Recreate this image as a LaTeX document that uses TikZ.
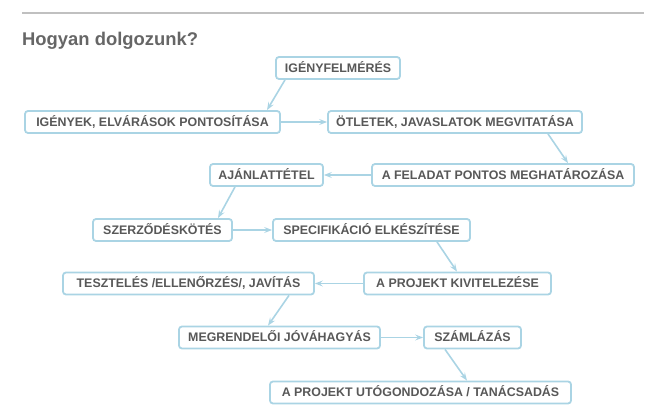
\documentclass[tikz,border=0pt]{standalone}
\usepackage{fontspec}
\setmainfont{Liberation Sans}
\usetikzlibrary{arrows.meta}
\definecolor{keret}{RGB}{170,212,228}
\definecolor{szoveg}{RGB}{88,88,88}
\definecolor{cim}{RGB}{102,102,102}
\definecolor{vonal}{RGB}{192,192,192}

\begin{document}
\begin{tikzpicture}[x=1pt, y=-1pt,
    lepes/.style={draw=keret, line width=1.8pt, rounded corners=3pt, fill=white,
        minimum height=22pt, inner sep=0pt, text height=8.9pt, text depth=0pt,
        font=\fontsize{12.4}{14}\selectfont\bfseries, text=szoveg},
    nyil/.style={draw=keret, line width=1.6pt, -{Stealth[length=8pt,width=6pt,inset=3pt]}}]
            \useasboundingbox (0,0) rectangle (646,417);

            % Header
            \draw[vonal, line width=1.4pt] (22,13) -- (644,13);
            \node[anchor=base west, inner sep=0pt, text=cim, font=\fontsize{18.4}{20}\selectfont\bfseries] (cimsor) at (22,46) {Hogyan dolgozunk?};

            % Steps
            \node[lepes, minimum width=124pt] (felmeres) at (338,68) {IGÉNYFELMÉRÉS};
            \node[lepes, minimum width=255pt] (pontositas) at (152.5,122) {IGÉNYEK, ELVÁRÁSOK PONTOSÍTÁSA};
            \node[lepes, minimum width=254pt] (otletek) at (455,122) {ÖTLETEK, JAVASLATOK MEGVITATÁSA};
            \node[lepes, minimum width=262pt] (feladat) at (503,175) {A FELADAT PONTOS MEGHATÁROZÁSA};
            \node[lepes, minimum width=113pt] (ajanlat) at (266.5,175) {AJÁNLATTÉTEL};
            \node[lepes, minimum width=139pt] (szerzodes) at (162.5,230) {SZERZŐDÉSKÖTÉS};
            \node[lepes, minimum width=197pt] (specifikacio) at (371.5,230) {SPECIFIKÁCIÓ ELKÉSZÍTÉSE};
            \node[lepes, minimum width=251pt] (teszteles) at (188.5,283.5) {TESZTELÉS /ELLENŐRZÉS/, JAVÍTÁS};
            \node[lepes, minimum width=187pt] (kivitelezes) at (457.5,283.5) {A PROJEKT KIVITELEZÉSE};
            \node[lepes, minimum width=201pt] (jovahagyas) at (279.5,337.5) {MEGRENDELŐI JÓVÁHAGYÁS};
            \node[lepes, minimum width=97pt] (szamlazas) at (472.5,337.5) {SZÁMLÁZÁS};
            \node[lepes, minimum width=301pt] (utogondozas) at (420.5,392.5) {A PROJEKT UTÓGONDOZÁSA / TANÁCSADÁS};

            % Arrows
            \draw[nyil] ([xshift=-53pt]felmeres.south) -- ([xshift=114.5pt]pontositas.north);
            \draw[nyil] (pontositas.east) -- (otletek.west);
            \draw[nyil] ([xshift=93pt]otletek.south) -- ([xshift=65pt]feladat.north);
            \draw[nyil] (feladat.west) -- (ajanlat.east);
            \draw[nyil] ([xshift=-31.5pt]ajanlat.south) -- ([xshift=55.5pt]szerzodes.north);
            \draw[nyil] (szerzodes.east) -- (specifikacio.west);
            \draw[nyil] ([xshift=65.5pt]specifikacio.south) -- ([xshift=-0.5pt]kivitelezes.north);
            \draw[nyil] (kivitelezes.west) -- (teszteles.east);
            \draw[nyil] ([xshift=100.5pt]teszteles.south) -- ([xshift=-11.5pt]jovahagyas.north);
            \draw[nyil] (jovahagyas.east) -- (szamlazas.west);
            \draw[nyil] ([xshift=-27.5pt]szamlazas.south) -- ([xshift=46.5pt]utogondozas.north);

        \end{tikzpicture}
\end{document}
